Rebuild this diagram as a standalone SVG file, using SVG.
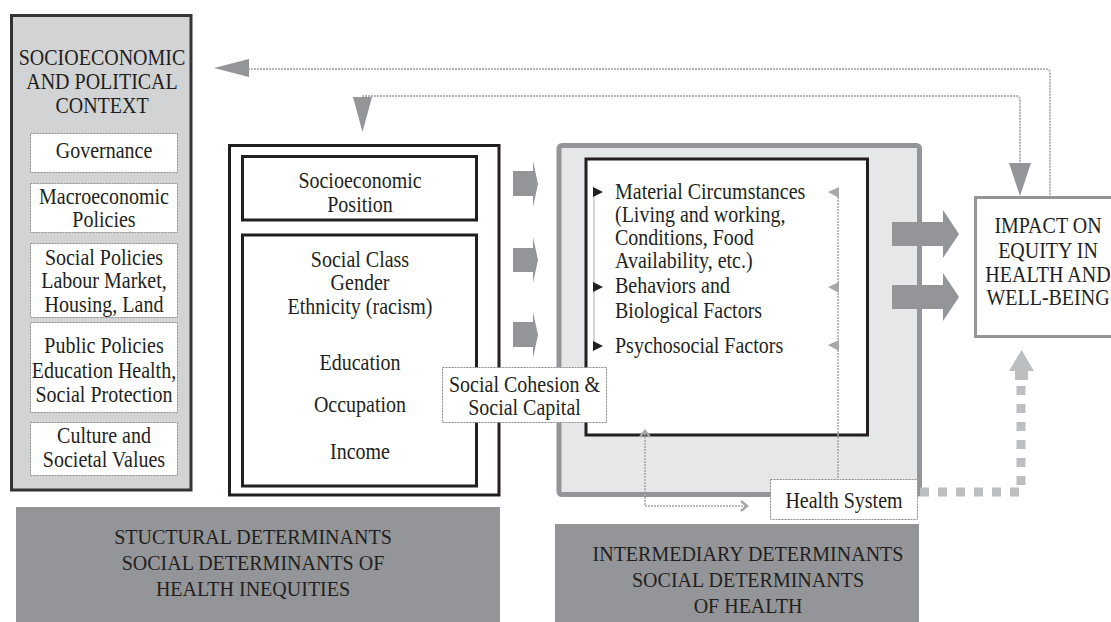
<svg xmlns="http://www.w3.org/2000/svg" width="1111" height="622" viewBox="0 0 1111 622">
<style>
text{font-family:"Liberation Serif","Times New Roman",serif;font-size:20px;fill:#231f20}
.c{text-anchor:middle}
.dbox{fill:#fff;stroke:#8a8a8a;stroke-width:1;stroke-dasharray:2,1}
.blk{fill:#fff;stroke:#231f20;stroke-width:3}
.thin{fill:none;stroke:#b5b5b5;stroke-width:2;stroke-dasharray:2,1}
.thin2{fill:none;stroke:#a8a8a8;stroke-width:1.5;stroke-dasharray:2,1}
.ah{fill:#939598}
.lab{fill:#939598}
</style>
<g id="context">
<rect x="11.5" y="15.5" width="179.5" height="474.5" fill="#d1d3d4" stroke="#333" stroke-width="3"/>
<text class="c" transform="translate(102,65) scale(1,1.12)"><tspan x="0" y="0">SOCIOECONOMIC</tspan><tspan x="0" y="21.4">AND POLITICAL</tspan><tspan x="0" y="42.9">CONTEXT</tspan></text>
</g>
<g id="governance"><rect class="dbox" x="30.5" y="133.5" width="147" height="39"/><text class="c" transform="translate(104,158) scale(1,1.12)">Governance</text></g>
<g id="macro"><rect class="dbox" x="30.5" y="183.5" width="147" height="49"/><text class="c" transform="translate(104,204) scale(1,1.12)"><tspan x="0" y="0">Macroeconomic</tspan><tspan x="0" y="20.5">Policies</tspan></text></g>
<g id="social-policies"><rect class="dbox" x="30.5" y="243.5" width="147" height="74"/><text class="c" transform="translate(104,265) scale(1,1.12)"><tspan x="0" y="0">Social Policies</tspan><tspan x="0" y="20.5">Labour Market,</tspan><tspan x="0" y="41.9">Housing, Land</tspan></text></g>
<g id="public-policies"><rect class="dbox" x="30.5" y="322.5" width="147" height="90"/><text class="c" transform="translate(104,353) scale(1,1.12)"><tspan x="0" y="0">Public Policies</tspan><tspan x="0" y="22.3">Education Health,</tspan><tspan x="0" y="43.75">Social Protection</tspan></text></g>
<g id="culture"><rect class="dbox" x="30.5" y="422.5" width="147" height="53"/><text class="c" transform="translate(104,443) scale(1,1.12)"><tspan x="0" y="0">Culture and</tspan><tspan x="0" y="21.4">Societal Values</tspan></text></g>

<g id="structural">
<rect x="229.5" y="145.5" width="269.5" height="349.5" fill="#fff" stroke="#231f20" stroke-width="3"/>
</g>
<g id="sep"><rect class="blk" x="242.5" y="156.5" width="234" height="63.5"/><text class="c" transform="translate(360,188) scale(1,1.12)"><tspan x="0" y="0">Socioeconomic</tspan><tspan x="0" y="21.4">Position</tspan></text></g>
<g id="class"><rect class="blk" x="242.5" y="235" width="234" height="251"/><text class="c" transform="translate(360,267) scale(1,1.12)"><tspan x="0" y="0">Social Class</tspan><tspan x="0" y="20.5">Gender</tspan><tspan x="0" y="41.96">Ethnicity (racism)</tspan><tspan x="0" y="92">Education</tspan><tspan x="0" y="129.5">Occupation</tspan><tspan x="0" y="171.5">Income</tspan></text></g>

<g id="intermediary">
<rect x="559" y="145.5" width="360.5" height="349" rx="3" fill="#e6e7e8" stroke="#939598" stroke-width="5"/>
</g>
<g id="factors">
<rect class="blk" x="586" y="159" width="281.5" height="276" stroke-width="3.5"/>
<line x1="594" y1="192" x2="594" y2="346" stroke="#aaa" stroke-width="1"/>
<polygon points="593,187 603,192 593,197" fill="#231f20"/>
<polygon points="593,282 603,287 593,292" fill="#231f20"/>
<polygon points="593,341 603,346 593,351" fill="#231f20"/>
<text transform="translate(615,199) scale(1,1.12)"><tspan x="0" y="0">Material Circumstances</tspan><tspan x="0" y="20.54">(Living and working,</tspan><tspan x="0" y="41.07">Conditions, Food</tspan><tspan x="0" y="61.6">Availability, etc.)</tspan><tspan x="0" y="83.9">Behaviors and</tspan><tspan x="0" y="106.25">Biological Factors</tspan><tspan x="0" y="137.5">Psychosocial Factors</tspan></text>
</g>

<g id="impact"><rect x="975.5" y="197.5" width="150" height="139" fill="#fff" stroke="#939598" stroke-width="3"/><text class="c" transform="translate(1048,233) scale(1,1.12)"><tspan x="0" y="0">IMPACT ON</tspan><tspan x="0" y="22.3">EQUITY IN</tspan><tspan x="0" y="43.75">HEALTH AND</tspan><tspan x="0" y="64.3">WELL-BEING</tspan></text></g>

<g id="connectors">
<path class="thin" d="M248,69 H1046 Q1050,69 1050,73 V196"/>
<polygon class="ah" points="214,68 249,59 249,77"/>
<path class="thin" d="M362,96 H1016 Q1020,96 1020,100 V164"/>
<polygon class="ah" points="353,97 372,97 362.5,132"/>
<polygon class="ah" points="1009,163 1031,163 1020,196"/>
<polygon class="ah" points="513,171 533,171 533,161 538,184 533,207 533,196 513,196"/>
<polygon class="ah" points="513,248 533,248 533,237 538,260 533,283 533,272 513,272"/>
<polygon class="ah" points="513,322 533,322 533,312 538,335 533,358 533,347 513,347"/>
<polygon class="ah" points="892,222 943,222 943,210 959,234 943,258 943,246 892,246"/>
<polygon class="ah" points="892,285 943,285 943,273 959,297 943,321 943,309 892,309"/>
<path class="thin2" d="M838,188 V479"/>
<polygon fill="#a8a8a8" points="828,192 839,187 839,198"/>
<polygon fill="#a8a8a8" points="828,287 839,282 839,293"/>
<polygon fill="#a8a8a8" points="828,345 839,340 839,351"/>
<path class="thin2" d="M645,434 V506 H745"/>
<polyline points="640,437 645,431 650,437" fill="none" stroke="#a8a8a8" stroke-width="2.5"/>
<polyline points="741,501 747,506 741,511" fill="none" stroke="#a8a8a8" stroke-width="2.5"/>
<path d="M920,492 H1021 V380" fill="none" stroke="#bcbec0" stroke-width="9" stroke-dasharray="9,9"/>
<polygon fill="#bcbec0" points="1015,380 1015,371 1009,371 1021.5,350 1034,371 1028,371 1028,380"/>
</g>

<g id="cohesion"><rect class="dbox" x="442.5" y="367.5" width="164" height="55"/><text class="c" transform="translate(524.5,392) scale(1,1.12)"><tspan x="0" y="0">Social Cohesion &amp;</tspan><tspan x="0" y="20.5">Social Capital</tspan></text></g>
<g id="health-system"><rect class="dbox" x="770.5" y="479.5" width="147" height="40"/><text class="c" transform="translate(844,508) scale(1,1.12)">Health System</text></g>

<g id="label-structural"><rect class="lab" x="16" y="507" width="484" height="115"/><text class="c" x="253" y="544">STUCTURAL DETERMINANTS</text><text class="c" x="253" y="570">SOCIAL DETERMINANTS OF</text><text class="c" x="253" y="596">HEALTH INEQUITIES</text></g>
<g id="label-intermediary"><rect class="lab" x="555" y="524" width="364" height="98"/><text class="c" x="748" y="561">INTERMEDIARY DETERMINANTS</text><text class="c" x="748" y="587">SOCIAL DETERMINANTS</text><text class="c" x="748" y="613">OF HEALTH</text></g>
</svg>
